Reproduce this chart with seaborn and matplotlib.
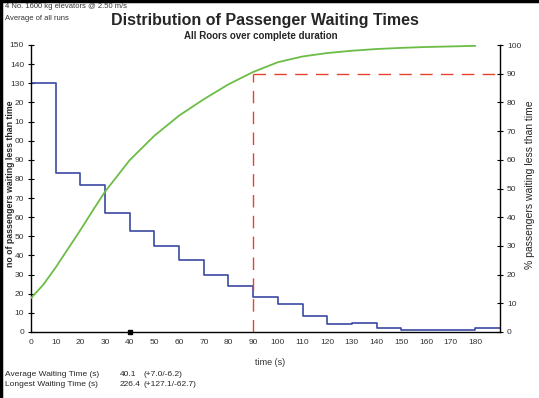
import matplotlib
matplotlib.use("Agg")
import matplotlib.pyplot as plt
from matplotlib.lines import Line2D
import seaborn as sns
import pandas as pd

# ---- data ----
bin_start = [0, 10, 20, 30, 40, 50, 60, 70, 80, 90, 100, 110, 120, 130, 140, 150, 160, 170, 180, 190]
passengers = [130, 83, 77, 62, 53, 45, 37.5, 30, 24, 18.5, 14.5, 8.5, 4.2, 4.8, 2.3, 1.0, 1.0, 1.0, 2.0, 2.0]

cum_time = [0, 5, 10, 15, 20, 25, 30, 40, 50, 60, 70, 80, 90, 100, 110, 120, 130, 140, 150, 160, 170, 180]
cum_pct = [11.8, 16.5, 22.5, 29.0, 35.5, 42.3, 48.9, 59.9, 68.4, 75.4, 81.1, 86.3, 90.6, 94.0, 96.0, 97.2, 98.0, 98.6, 99.0, 99.3, 99.5, 99.7]

x_ticks = list(range(0, 190, 10))
left_ticks = list(range(0, 160, 10))
left_tick_labels = ["0", "10", "20", "30", "40", "50", "60", "70", "80", "90", "00", "10", "20", "130", "140", "150"]
right_ticks = list(range(0, 110, 10))

avg_wait = 40.1
target_time = 90
target_pct = 90

header1 = "4 No. 1600 kg elevators @ 2.50 m/s"
header2 = "Average of all runs"
title = "Distribution of Passenger Waiting Times"
subtitle = "All Roors over complete duration"
left_label = "no of passengers waiting less than time"
right_label = "% passengers waiting less than time"
x_label = "time (s)"
foot1 = ("Average Waiting Time (s)", "40.1", "(+7.0/-6.2)")
foot2 = ("Longest Waiting Time (s)", "226.4", "(+127.1/-62.7)")

# ---- style ----
sns.set_theme(style="white")
plt.rcParams["font.family"] = ["Liberation Sans", "DejaVu Sans"]

BLUE = "#3b4aa2"
GREEN = "#6cbd45"
RED = "#e5432e"
W, H = 539, 398

fig = plt.figure(figsize=(5.39, 3.98), dpi=100)
ax = fig.add_axes([31 / W, 1 - 332 / H, (500 - 31) / W, (332 - 45) / H])
ax2 = ax.twinx()

df_steps = pd.DataFrame({"t": bin_start, "n": passengers})
sns.lineplot(data=df_steps, x="t", y="n", ax=ax, color=BLUE, lw=1.2, drawstyle="steps-post")

df_cum = pd.DataFrame({"t": cum_time, "p": cum_pct})
sns.lineplot(data=df_cum, x="t", y="p", ax=ax2, color=GREEN, lw=1.3)

# target markers
ax2.plot([target_time, target_time], [0, target_pct], color=RED, lw=1.0, dashes=(9, 6))
ax2.plot([target_time, 190], [target_pct, target_pct], color=RED, lw=1.0, dashes=(9, 6))
ax.plot([avg_wait], [0], marker="s", color="black", markersize=3, clip_on=False, zorder=5)

ax.set_xlim(0, 190)
ax.set_ylim(0, 150)
ax2.set_ylim(0, 100)

ax.set_xticks(x_ticks)
ax.set_yticks(left_ticks)
ax.set_yticklabels(left_tick_labels)
ax2.set_yticks(right_ticks)

for a in (ax, ax2):
    a.tick_params(axis="both", direction="inout", length=4, width=0.8, labelsize=6,
                  colors="black", labelcolor="#333333", pad=3)
    a.spines["top"].set_visible(False)
    for s in ("left", "bottom", "right"):
        a.spines[s].set_color("black")
        a.spines[s].set_linewidth(1.0)
ax.spines["right"].set_visible(False)
ax2.spines["left"].set_visible(False)
ax2.spines["bottom"].set_visible(False)

ax.set_ylabel(left_label, fontsize=6.3, fontweight="bold")
ax.yaxis.set_label_coords((15 - 31) / (500 - 31), (332 - 184) / (332 - 45))
ax2.set_ylabel(right_label, fontsize=7.5)
ax2.yaxis.set_label_coords((525 - 31) / (500 - 31), (332 - 185) / (332 - 45))
ax.set_xlabel(x_label, fontsize=6.5, color="#333333")
ax.xaxis.set_label_coords(0.51, -(358 - 332) / (332 - 45))

# texts
fig.text(5 / W, 1 - 7 / H, header1, fontsize=5.5, va="center", ha="left", color="#333333")
fig.text(5 / W, 1 - 19 / H, header2, fontsize=5.5, va="center", ha="left", color="#333333")
fig.text(265 / W, 1 - 21 / H, title, fontsize=11.5, fontweight="bold", ha="center", va="center")
fig.text(261 / W, 1 - 36 / H, subtitle, fontsize=7, fontweight="bold", ha="center", va="center")

for yy, (a, b, c) in ((374, foot1), (385, foot2)):
    fig.text(5 / W, 1 - yy / H, a, fontsize=6, va="center", ha="left")
    fig.text(120 / W, 1 - yy / H, b, fontsize=6, va="center", ha="left")
    fig.text(143 / W, 1 - yy / H, c, fontsize=6, va="center", ha="left")

# figure border (top and left edges)
fig.add_artist(Line2D([0, 1], [1 - 1 / H, 1 - 1 / H], transform=fig.transFigure, color="black", lw=2.5))
fig.add_artist(Line2D([1 / W, 1 / W], [0, 1], transform=fig.transFigure, color="black", lw=2.5))

fig.savefig("out.png", dpi=100)
